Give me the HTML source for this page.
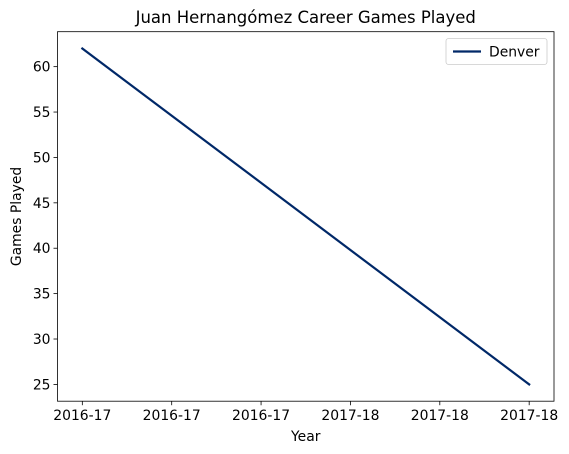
<!DOCTYPE html>
<html><head><meta charset="utf-8"><style>
body{margin:0;background:#fff;}
svg{display:block;font-family:"DejaVu Sans","Liberation Sans",sans-serif;}
</style></head><body>
<svg id="chart" width="569" height="454" viewBox="0 0 569 454"></svg>
<script>
const seasons = ["2016-17","2017-18"];
const gamesPlayed = [62,25];
const xTickLabels = ["2016-17","2016-17","2016-17","2017-18","2017-18","2017-18"];
const yTicks = [25,30,35,40,45,50,55,60];

const svg = document.getElementById('chart');
const NS = 'http://www.w3.org/2000/svg';
const L=57.5, R=554, T=31.7, B=401.2;
const ymin=25-(62-25)*0.05, ymax=62+(62-25)*0.05;
const xs = v => L + (R-L)*(0.05 + 0.9*v);
const ys = v => B - (v-ymin)/(ymax-ymin)*(B-T);
function mk(tag, attrs, txt){const e=document.createElementNS(NS,tag);for(const k in attrs)e.setAttribute(k,attrs[k]);if(txt!==undefined)e.textContent=txt;svg.appendChild(e);return e;}

const title = mk('text',{x:(L+R)/2,y:23,'text-anchor':'middle','font-size':16.5},'Juan Hernangómez Career Games Played');



yTicks.forEach(v=>{
  const y=ys(v);
  const t=mk('line',{x1:L-4,x2:L,y1:y,y2:y,stroke:'#000','stroke-width':0.8});
  
  
  const l=mk('text',{x:L-7,y:y+5,'text-anchor':'end','font-size':13.9},String(v));
  
  
});
xTickLabels.forEach((s,i)=>{
  const x=xs(i/(xTickLabels.length-1));
  const t=mk('line',{x1:x,x2:x,y1:B,y2:B+4,stroke:'#000','stroke-width':0.8});
  
  
  const l=mk('text',{x:x,y:B+19,'text-anchor':'middle','font-size':13.9},s);
  
  
});

const pts = gamesPlayed.map((v,i)=>xs(i/(gamesPlayed.length-1))+','+ys(v)).join(' ');
const line = mk('polyline',{points:pts,fill:'none',stroke:'#002868','stroke-width':2.2,'stroke-linecap':'square'});



const frame = mk('rect',{x:L,y:T,width:R-L,height:B-T,fill:'none',stroke:'#000','stroke-width':0.8});



const xt = mk('text',{x:(L+R)/2,y:441,'text-anchor':'middle','font-size':13.9},'Year');


const yt = mk('text',{x:21,y:(T+B)/2,'text-anchor':'middle','font-size':13.9,transform:'rotate(-90 21 '+((T+B)/2)+')'},'Games Played');



const lg = mk('rect',{x:446,y:38.5,width:101,height:26,rx:2.5,fill:'#fff',stroke:'#ccc','stroke-width':0.8});


const ll = mk('line',{x1:453,x2:481,y1:51.5,y2:51.5,stroke:'#002868','stroke-width':2.2});


const lt = mk('text',{x:489,y:56.5,'font-size':13.9},'Denver');


</script>
</body></html>
